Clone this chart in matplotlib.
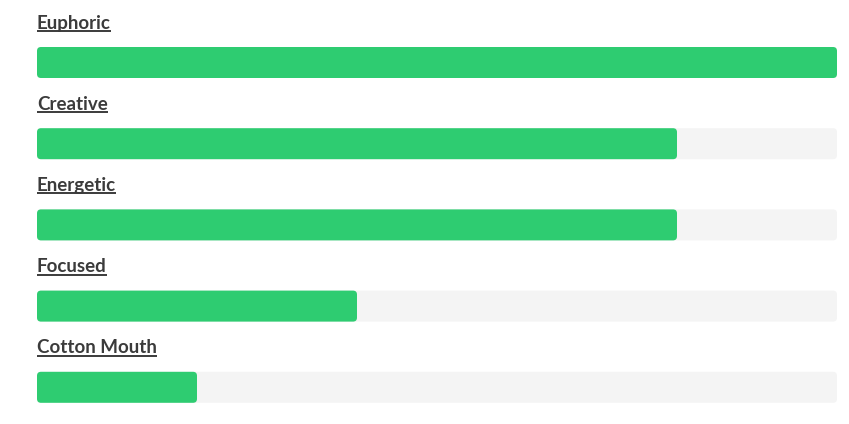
import matplotlib
matplotlib.use("Agg")
import matplotlib.pyplot as plt
from matplotlib.patches import FancyBboxPatch

labels = ["Euphoric", "Creative", "Energetic", "Focused", "Cotton Mouth"]
values = [100, 80, 80, 40, 20]

W, H = 849, 424
fig = plt.figure(figsize=(W / 100, H / 100), dpi=100)
ax = fig.add_axes([0, 0, 1, 1])
ax.set_xlim(0, W)
ax.set_ylim(H, 0)
ax.axis("off")

left, full = 37, 800
bar_top0, step, bar_h = 47, 81.2, 31
text_color = "#3b3b3b"

fig.canvas.draw()
renderer = fig.canvas.get_renderer()

for i, (lab, v) in enumerate(zip(labels, values)):
    top = bar_top0 + i * step
    # background track
    ax.add_patch(FancyBboxPatch((left, top), full, bar_h,
                                boxstyle="round,pad=0,rounding_size=4",
                                fc="#f4f4f4", ec="none"))
    ax.add_patch(FancyBboxPatch((left, top), full * v / 100, bar_h,
                                boxstyle="round,pad=0,rounding_size=4",
                                fc="#2ecc71", ec="none"))
    base = top - 18.5
    t = ax.text(left, base, lab, fontsize=13.5, fontweight="bold",
                family="Lato", color=text_color, va="baseline", ha="left")
    bb = t.get_window_extent(renderer=renderer)
    ax.plot([left, left + bb.width], [base + 2.5, base + 2.5],
            color=text_color, lw=1.4, solid_capstyle="butt")

fig.savefig("out.png", dpi=100, facecolor="white")
